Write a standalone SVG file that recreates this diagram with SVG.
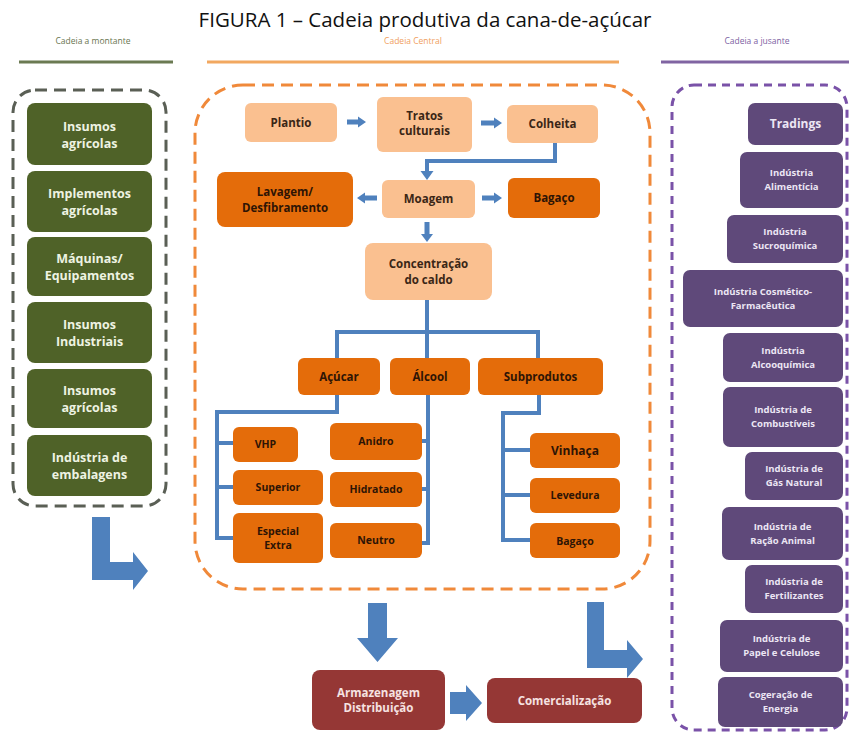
<svg xmlns="http://www.w3.org/2000/svg" width="849" height="736" viewBox="0 0 849 736">
<style>
text{font-family:"Open Sans","Liberation Sans",sans-serif;text-anchor:middle}
.t{font-size:20.5px;fill:#111}
.h{font-size:8.5px}
.g rect{fill:#4f6228}
.g text{fill:#eef3e2;font-weight:bold;font-size:12.5px}
.p rect{fill:#fac090}
.p text{fill:#3a2616;font-weight:bold;font-size:11.5px}
.o rect{fill:#e46c0a}
.o text{fill:#2e1405;font-weight:bold;font-size:11.5px}
.v rect{fill:#5f497a}
.v text{fill:#ece6f4;font-weight:bold;font-size:9.5px}
.r rect{fill:#953735}
.r text{fill:#f6e2e1;font-weight:bold;font-size:11.5px}
.ln{fill:none;stroke:#4f81bd;stroke-width:4}
.ar{fill:#4f81bd}
</style>
<text class="t" x="425" y="27">FIGURA 1 – Cadeia produtiva da cana-de-açúcar</text>
<g id="headers">
<text class="h" x="93" y="44" fill="#6a7550">Cadeia a montante</text>
<text class="h" x="413" y="44" fill="#f0a060">Cadeia Central</text>
<text class="h" x="757" y="44" fill="#7d62a3">Cadeia a jusante</text>
<line x1="19" y1="62" x2="173" y2="62" stroke="#6b7a52" stroke-width="3"/>
<line x1="207" y1="62" x2="619" y2="62" stroke="#f2a860" stroke-width="3"/>
<line x1="661" y1="62" x2="849" y2="62" stroke="#8064a2" stroke-width="3"/>
</g>
<g id="containers" fill="none" stroke-width="3">
<rect x="13" y="90" width="153" height="416" rx="22" stroke="#5a5f55" stroke-dasharray="12 7"/>
<rect x="195" y="85" width="455" height="504" rx="48" stroke="#f0893a" stroke-dasharray="12 7"/>
<rect x="672" y="85" width="175" height="645" rx="22" stroke="#7a52a8" stroke-dasharray="8 6"/>
</g>
<g id="connectors">
<polygon class="ar" points="347,119.5 358,119.5 358,116.5 366,122 358,127.5 358,124.5 347,124.5"/>
<polygon class="ar" points="481,120.5 494,120.5 494,117.5 502,123 494,128.5 494,125.5 481,125.5"/>
<polygon class="ar" points="377,195.5 365,195.5 365,192.5 357,198 365,203.5 365,200.5 377,200.5"/>
<polygon class="ar" points="482,195.5 494,195.5 494,192.5 502,198 494,203.5 494,200.5 482,200.5"/>
<polygon class="ar" points="424.5,222 429.5,222 429.5,234 433,234 427,242 421,234 424.5,234"/>
<polyline class="ln" points="555,143 555,161 427,161 427,172"/>
<polygon class="ar" points="420.5,171 433.5,171 427,180"/>
<polyline class="ln" points="427,300 427,358"/>
<polyline class="ln" points="337,358 337,332 538,332 538,358"/>
<polyline class="ln" points="337,395 337,412 217,412 217,538 233,538"/>
<line class="ln" x1="217" y1="443" x2="233" y2="443"/>
<line class="ln" x1="217" y1="487" x2="233" y2="487"/>
<polyline class="ln" points="428,395 428,543 422,543"/>
<line class="ln" x1="428" y1="441" x2="422" y2="441"/>
<line class="ln" x1="428" y1="489" x2="422" y2="489"/>
<polyline class="ln" points="539,395 539,413 503,413 503,540 530,540"/>
<line class="ln" x1="503" y1="450" x2="530" y2="450"/>
<line class="ln" x1="503" y1="495" x2="530" y2="495"/>
<polygon class="ar" points="92,517 110,517 110,562 133,562 133,552 148,571 133,590 133,580 92,580"/>
<polygon class="ar" points="368,603 387,603 387,638 398,638 377.5,662 357,638 368,638"/>
<polygon class="ar" points="450,692 466,692 466,685 482,703 466,721 466,714 450,714"/>
<polygon class="ar" points="587,602 604,602 604,650 627,650 627,640 643,659 627,678 627,668 587,668"/>
</g>
<g class="g">
<g id="insumos-agricolas-1"><rect x="27" y="103" width="125" height="62" rx="8"/><text x="89.5" y="131">Insumos</text><text x="89.5" y="148">agrícolas</text></g>
<g id="implementos"><rect x="27" y="171" width="125" height="61" rx="8"/><text x="89.5" y="198">Implementos</text><text x="89.5" y="215">agrícolas</text></g>
<g id="maquinas"><rect x="27" y="237" width="125" height="59" rx="8"/><text x="89.5" y="263">Máquinas/</text><text x="89.5" y="280">Equipamentos</text></g>
<g id="insumos-industriais"><rect x="27" y="302" width="125" height="61" rx="8"/><text x="89.5" y="329">Insumos</text><text x="89.5" y="346">Industriais</text></g>
<g id="insumos-agricolas-2"><rect x="27" y="369" width="125" height="59" rx="8"/><text x="89.5" y="395">Insumos</text><text x="89.5" y="412">agrícolas</text></g>
<g id="embalagens"><rect x="27" y="435" width="125" height="61" rx="8"/><text x="89.5" y="462">Indústria de</text><text x="89.5" y="479">embalagens</text></g>
</g>
<g class="p">
<g id="plantio"><rect x="245" y="103" width="92" height="39" rx="6"/><text x="291" y="127">Plantio</text></g>
<g id="tratos"><rect x="377" y="97" width="95" height="55" rx="6"/><text x="424.5" y="120">Tratos</text><text x="424.5" y="135">culturais</text></g>
<g id="colheita"><rect x="507" y="105" width="91" height="38" rx="6"/><text x="552.5" y="128">Colheita</text></g>
<g id="moagem"><rect x="382" y="180" width="93" height="38" rx="6"/><text x="428.5" y="203">Moagem</text></g>
<g id="concentracao"><rect x="365" y="243" width="127" height="57" rx="8"/><text x="428.5" y="268">Concentração</text><text x="428.5" y="284">do caldo</text></g>
</g>
<g class="o">
<g id="lavagem"><rect x="217" y="172" width="136" height="55" rx="8"/><text x="285" y="196">Lavagem/</text><text x="285" y="212">Desfibramento</text></g>
<g id="bagaco-1"><rect x="508" y="178" width="92" height="40" rx="6"/><text x="554" y="202">Bagaço</text></g>
<g id="acucar"><rect x="298" y="358" width="82" height="37" rx="6"/><text x="339" y="381">Açúcar</text></g>
<g id="alcool"><rect x="390" y="358" width="80" height="37" rx="6"/><text x="430" y="381">Álcool</text></g>
<g id="subprodutos"><rect x="478" y="358" width="125" height="37" rx="6"/><text x="540.5" y="381">Subprodutos</text></g>
<g id="vhp"><rect x="233" y="427" width="65" height="35" rx="6"/><text x="265.5" y="448" style="font-size:10.5px">VHP</text></g>
<g id="superior"><rect x="233" y="470" width="90" height="35" rx="6"/><text x="278" y="491" style="font-size:10.5px">Superior</text></g>
<g id="especial"><rect x="233" y="513" width="90" height="50" rx="6"/><text x="278" y="535" style="font-size:10.5px">Especial</text><text x="278" y="549" style="font-size:10.5px">Extra</text></g>
<g id="anidro"><rect x="330" y="423" width="92" height="37" rx="6"/><text x="376" y="445" style="font-size:10.5px">Anidro</text></g>
<g id="hidratado"><rect x="330" y="472" width="92" height="35" rx="6"/><text x="376" y="493" style="font-size:10.5px">Hidratado</text></g>
<g id="neutro"><rect x="330" y="523" width="92" height="35" rx="6"/><text x="376" y="544" style="font-size:10.5px">Neutro</text></g>
<g id="vinhaca"><rect x="530" y="433" width="90" height="35" rx="6"/><text x="575" y="455" style="font-size:12px">Vinhaça</text></g>
<g id="levedura"><rect x="530" y="478" width="90" height="35" rx="6"/><text x="575" y="499" style="font-size:10.5px">Levedura</text></g>
<g id="bagaco-2"><rect x="530" y="523" width="90" height="35" rx="6"/><text x="575" y="545" style="font-size:10.5px">Bagaço</text></g>
</g>
<g class="v">
<g id="tradings"><rect x="748" y="103" width="95" height="42" rx="7"/><text x="795.5" y="128" style="font-size:12px">Tradings</text></g>
<g id="alimenticia"><rect x="740" y="152" width="103" height="56" rx="7"/><text x="791.5" y="176">Indústria</text><text x="791.5" y="190">Alimentícia</text></g>
<g id="sucroquimica"><rect x="727" y="215" width="116" height="48" rx="7"/><text x="785" y="235">Indústria</text><text x="785" y="249">Sucroquímica</text></g>
<g id="cosmetico"><rect x="683" y="270" width="160" height="57" rx="7"/><text x="763" y="295">Indústria Cosmético-</text><text x="763" y="309">Farmacêutica</text></g>
<g id="alcooquimica"><rect x="723" y="333" width="120" height="49" rx="7"/><text x="783" y="354">Indústria</text><text x="783" y="368">Alcooquímica</text></g>
<g id="combustiveis"><rect x="723" y="387" width="120" height="60" rx="7"/><text x="783" y="413">Indústria de</text><text x="783" y="427">Combustíveis</text></g>
<g id="gas"><rect x="745" y="452" width="98" height="48" rx="7"/><text x="794" y="472">Indústria de</text><text x="794" y="486">Gás Natural</text></g>
<g id="racao"><rect x="722" y="507" width="121" height="53" rx="7"/><text x="782.5" y="530">Indústria de</text><text x="782.5" y="544">Ração Animal</text></g>
<g id="fertilizantes"><rect x="745" y="565" width="98" height="48" rx="7"/><text x="794" y="585">Indústria de</text><text x="794" y="599">Fertilizantes</text></g>
<g id="papel"><rect x="720" y="620" width="123" height="52" rx="7"/><text x="781.5" y="642">Indústria de</text><text x="781.5" y="656">Papel e Celulose</text></g>
<g id="cogeracao"><rect x="718" y="677" width="125" height="50" rx="7"/><text x="780.5" y="698">Cogeração de</text><text x="780.5" y="712">Energia</text></g>
</g>
<g class="r">
<g id="armazenagem"><rect x="312" y="670" width="133" height="60" rx="8"/><text x="378.5" y="697">Armazenagem</text><text x="378.5" y="712">Distribuição</text></g>
<g id="comercializacao"><rect x="487" y="678" width="155" height="45" rx="8"/><text x="564.5" y="705">Comercialização</text></g>
</g>
</svg>
